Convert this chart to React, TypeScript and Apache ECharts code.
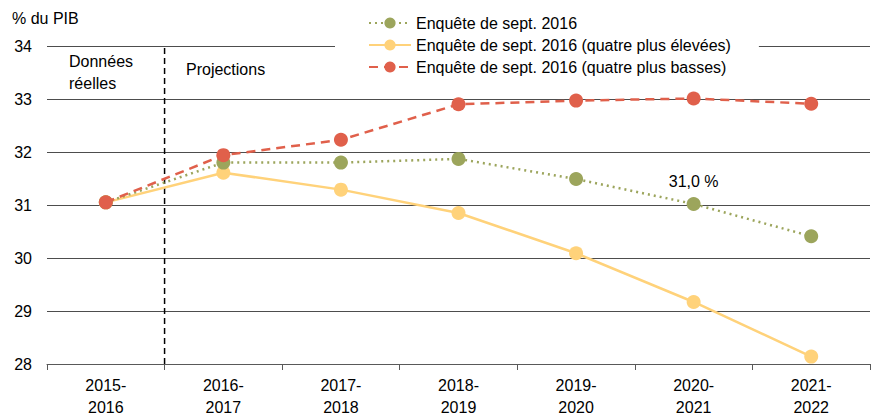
import { useEffect, useRef } from "react";
import * as echarts from "echarts";

const categories = ["2015-\n2016", "2016-\n2017", "2017-\n2018", "2018-\n2019", "2019-\n2020", "2020-\n2021", "2021-\n2022"];
const surveyAvg = [31.05, 31.8, 31.8, 31.87, 31.49, 31.02, 30.41];
const surveyHigh = [31.05, 31.61, 31.29, 30.85, 30.09, 29.17, 28.14];
const surveyLow = [31.05, 31.94, 32.23, 32.9, 32.97, 33.01, 32.91];
const seriesNames = [
  "Enquête de sept. 2016",
  "Enquête de sept. 2016 (quatre plus élevées)",
  "Enquête de sept. 2016 (quatre plus basses)",
];
const yTicks = { min: 28, max: 34, interval: 1 };
// frontière données réelles / projections, entre la 1re et la 2e catégorie
const splitAt = 0.5;

const FONT = "'Liberation Sans', Arial, sans-serif";
const FS = 16;
const GREEN = "#9ca55c";
const YELLOW = "#ffd27a";
const RED = "#e0604b";

export default function App() {
  const chartRef = useRef<HTMLDivElement | null>(null);

  useEffect(() => {
    if (!chartRef.current) return;
    const chart = echarts.init(chartRef.current, null, { renderer: "svg" });

    chart.setOption({
      animation: false,
      textStyle: { fontFamily: FONT },
      grid: { left: 47, right: 1, top: 46, bottom: 53 },
      legend: {
        orient: "vertical",
        left: 335,
        top: 5,
        padding: [10, 28, 6, 33],
        backgroundColor: "#fff",
        itemWidth: 42,
        itemHeight: 14,
        itemGap: 6,
        data: seriesNames,
        textStyle: { fontSize: FS, color: "#000", fontFamily: FONT },
      },
      xAxis: [
        {
          type: "category",
          data: categories,
          boundaryGap: true,
          axisLine: { lineStyle: { color: "#595959", width: 1 } },
          axisTick: { show: true, length: 6, lineStyle: { color: "#595959" } },
          axisLabel: { color: "#000", fontSize: FS, lineHeight: 22, margin: 10, fontFamily: FONT },
        },
        {
          type: "value",
          min: -0.5,
          max: categories.length - 0.5,
          show: false,
        },
      ],
      yAxis: {
        type: "value",
        min: yTicks.min,
        max: yTicks.max,
        interval: yTicks.interval,
        axisLine: { show: false },
        axisTick: { show: false },
        axisLabel: { color: "#000", fontSize: FS, margin: 15, fontFamily: FONT },
        splitLine: { lineStyle: { color: "#4d4d4d", width: 1 } },
      },
      graphic: [
        { type: "text", left: 12, top: 10, style: { text: "% du PIB", font: `${FS}px ${FONT}`, fill: "#000" } },
        { type: "text", left: 69, top: 50, style: { text: "Données\nréelles", font: `${FS}px ${FONT}`, lineHeight: 22, fill: "#000" } },
        { type: "text", left: 186, top: 61, style: { text: "Projections", font: `${FS}px ${FONT}`, fill: "#000" } },
      ],
      series: [
        {
          type: "line",
          xAxisIndex: 1,
          data: [
            [splitAt, yTicks.min],
            [splitAt, yTicks.max],
          ],
          symbol: "none",
          silent: true,
          lineStyle: { color: "#000", width: 1.5, type: [6, 4] },
          z: 1,
        },
        {
          name: seriesNames[0],
          type: "line",
          data: surveyAvg.map((v, i) =>
            i === 5
              ? {
                  value: v,
                  label: {
                    show: true,
                    position: "top",
                    distance: 7,
                    formatter: "31,0 %",
                    fontSize: FS,
                    color: "#000",
                    fontFamily: FONT,
                  },
                }
              : v
          ),
          symbol: "circle",
          symbolSize: 14,
          itemStyle: { color: GREEN },
          lineStyle: { color: GREEN, width: 2.5, type: [2, 4] },
          z: 3,
        },
        {
          name: seriesNames[1],
          type: "line",
          data: surveyHigh,
          symbol: "circle",
          symbolSize: 14,
          itemStyle: { color: YELLOW },
          lineStyle: { color: YELLOW, width: 2.5 },
          z: 2,
        },
        {
          name: seriesNames[2],
          type: "line",
          data: surveyLow,
          symbol: "circle",
          symbolSize: 14,
          itemStyle: { color: RED },
          lineStyle: { color: RED, width: 2.5, type: [9, 6] },
          z: 4,
        },
      ],
    });

    return () => chart.dispose();
  }, []);

  return (
    <div
      ref={chartRef}
      style={{ position: "fixed", left: 0, top: 0, width: 871, height: 418, background: "#fff" }}
    />
  );
}
